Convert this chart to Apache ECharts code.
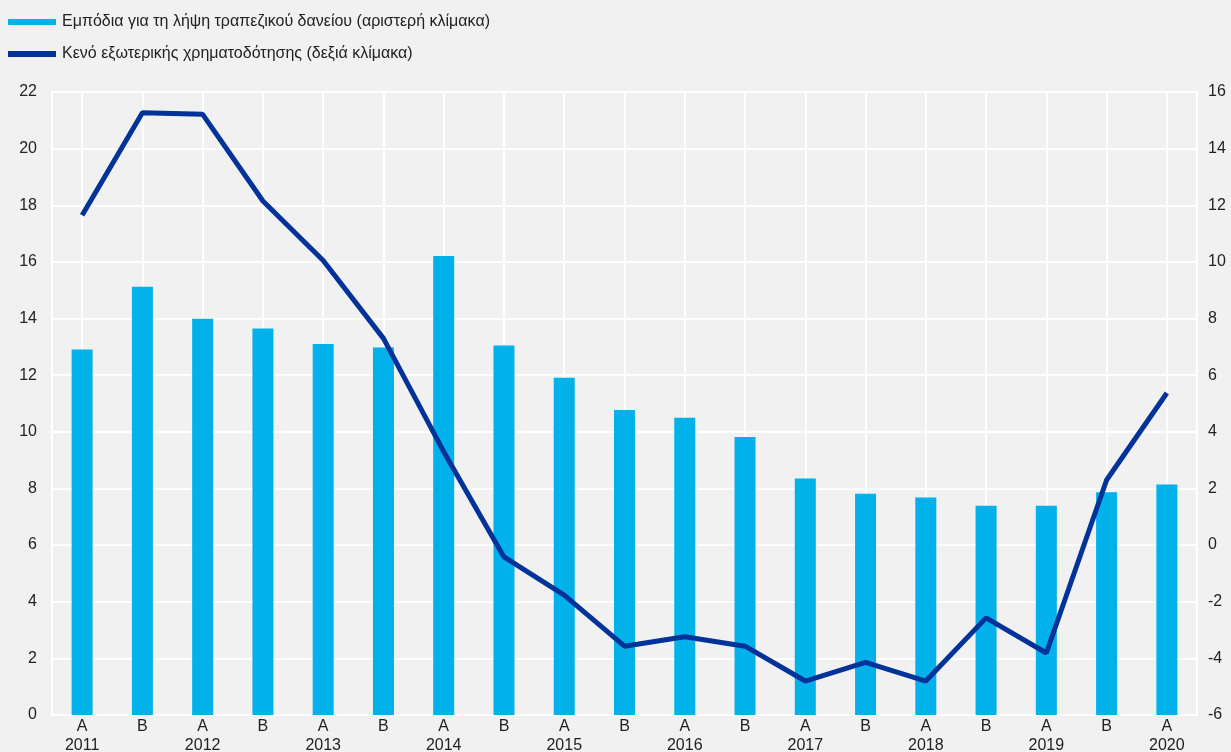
<!DOCTYPE html>
<html>
<head>
<meta charset="utf-8">
<script src="https://cdn.jsdelivr.net/npm/echarts@6/dist/echarts.min.js"></script>
<style>
html,body{margin:0;padding:0;background:#f1f1f1;}
#c{width:1231px;height:752px;}
</style>
</head>
<body>
<div id="c"></div>
<script>
const halves = ['A','B','A','B','A','B','A','B','A','B','A','B','A','B','A','B','A','B','A'];
const years  = ['2011','','2012','','2013','','2014','','2015','','2016','','2017','','2018','','2019','','2020'];
const barName = 'Εμπόδια για τη λήψη τραπεζικού δανείου (αριστερή κλίμακα)';
const lineName = 'Κενό εξωτερικής χρηματοδότησης (δεξιά κλίμακα)';
const barValues = [12.91, 15.12, 13.99, 13.65, 13.1, 12.98, 16.21, 13.05, 11.91, 10.77, 10.5, 9.82, 8.35, 7.81, 7.68, 7.39, 7.39, 7.87, 8.14];
const lineValues = [11.65, 15.27, 15.21, 12.15, 10.05, 7.3, 3.3, -0.42, -1.77, -3.57, -3.24, -3.57, -4.8, -4.14, -4.8, -2.57, -3.81, 2.3, 5.37];
const leftTicks = {min: 0, max: 22, interval: 2};
const rightTicks = {min: -6, max: 16, interval: 2};

const categories = halves.map((h, i) => years[i] ? h + '\n' + years[i] : h);
const font = '"Liberation Sans", Arial, sans-serif';

const chart = echarts.init(document.getElementById('c'), null, {renderer: 'canvas'});
chart.setOption({
  backgroundColor: '#f1f1f1',
  animation: false,
  textStyle: {fontFamily: font},
  legend: {
    orient: 'vertical',
    left: 8, top: 14, padding: 0,
    itemWidth: 48, itemHeight: 6, itemGap: 16,
    icon: 'rect',
    textStyle: {fontSize: 16, color: '#222', fontFamily: font, padding: [0, 0, 0, 1]},
    data: [barName, lineName]
  },
  grid: {
    left: 52, right: 34, top: 92, bottom: 37,
    outerBoundsMode: 'none',
    show: true, borderColor: '#ffffff', borderWidth: 2, backgroundColor: 'transparent'
  },
  xAxis: {
    type: 'category',
    data: categories,
    axisLine: {show: false},
    axisTick: {show: false},
    splitLine: {show: true, alignWithLabel: true, lineStyle: {color: '#ffffff', width: 2}},
    axisLabel: {color: '#222', fontSize: 16, lineHeight: 19, margin: 2, fontFamily: font, interval: 0}
  },
  yAxis: [
    {
      type: 'value', min: leftTicks.min, max: leftTicks.max, interval: leftTicks.interval,
      position: 'left',
      axisLine: {show: false}, axisTick: {show: false},
      splitLine: {show: true, lineStyle: {color: '#ffffff', width: 2}},
      axisLabel: {color: '#222', fontSize: 16, margin: 15, fontFamily: font}
    },
    {
      type: 'value', min: rightTicks.min, max: rightTicks.max, interval: rightTicks.interval,
      position: 'right',
      axisLine: {show: false}, axisTick: {show: false},
      splitLine: {show: false},
      axisLabel: {color: '#222', fontSize: 16, margin: 11, fontFamily: font}
    }
  ],
  series: [
    {
      name: barName, type: 'bar', yAxisIndex: 0,
      data: barValues, barWidth: 21,
      itemStyle: {color: '#00b1ea'}
    },
    {
      name: lineName, type: 'line', yAxisIndex: 1,
      data: lineValues, symbol: 'none',
      lineStyle: {color: '#003399', width: 5},
      itemStyle: {color: '#003399'}
    }
  ]
});
</script>
</body>
</html>
